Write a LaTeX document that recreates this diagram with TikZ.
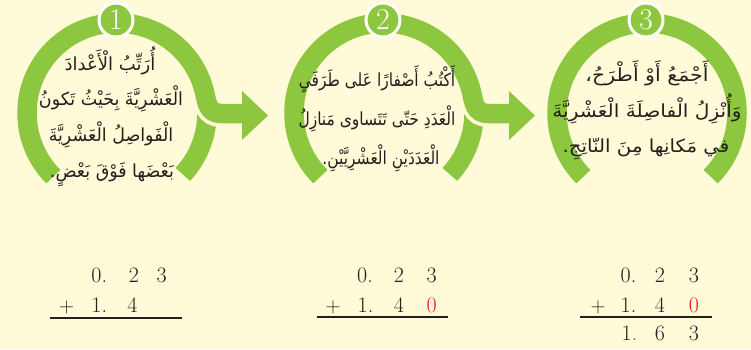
\documentclass[tikz,border=0pt]{standalone}
\usepackage{fontspec}
\usepackage{graphicx}
\TeXXeTstate=1
\newfontfamily\arabicfont[Script=Arabic]{DejaVu Sans}
\definecolor{bg}{HTML}{FFFAD7}
\definecolor{grn}{HTML}{8DC63F}
\definecolor{numred}{HTML}{ED1C24}
\definecolor{ink}{HTML}{231F20}
\tikzset{
  ring/.style={draw=grn, line width=19.5},
  gapring/.style={ring, preaction={draw=bg, line width=27}},
  head/.style={fill=grn},
  badge/.style={circle, fill=grn, draw=white, line width=3, minimum size=34, inner sep=0, text=white, font=\fontsize{30}{30}\selectfont},
  artxt/.style={anchor=base, inner sep=0, text=ink, font=\arabicfont\fontsize{18}{18}\selectfont},
  num/.style={anchor=base, inner sep=0, text=ink, font=\fontsize{22}{22}\selectfont},
  numw/.style={num, anchor=base west},
  rule/.style={draw=ink, line width=1.4},
}
\begin{document}
\begin{tikzpicture}[x=1pt,y=1pt]
\fill[bg] (0,0) rectangle (751,-349);
\useasboundingbox (0,0) rectangle (751,-349);

% ---------- step 1 ----------
\coordinate (c1) at (117,-113);
\draw[ring] ([shift={(-43:90)}]c1) arc[start angle=-43, end angle=3, radius=90];
\draw[gapring] ([shift={(225:90)}]c1) arc[start angle=225, end angle=12, radius=90]
  .. controls (206.7,-102.1) and (208,-113.5) .. (221,-113.5) -- (243,-113.5);
\fill[head] (242,-91) -- (268,-115.5) -- (242,-140) -- cycle;
\node[badge] (b1) at (116,-20) {1};
\node[artxt] (t1a) at (110,-70) {\beginR أُرَتِّبُ الْأَعْدادَ\endR};
\node[artxt] (t1b) at (111,-105) {\scalebox{0.97}[1]{\beginR الْعَشْرِيَّةَ بِحَيْثُ تَكونُ\endR}};
\node[artxt] (t1c) at (111,-141) {\scalebox{0.97}[1]{\beginR الْفَواصِلُ الْعَشْرِيَّةَ\endR}};
\node[artxt] (t1d) at (112,-177) {\scalebox{0.97}[1]{\beginR بَعْضَها فَوْقَ بَعْضٍ.\endR}};

% ---------- step 2 ----------
\coordinate (c2) at (384,-113);
\draw[ring] ([shift={(-43:90)}]c2) arc[start angle=-43, end angle=3, radius=90];
\draw[gapring] ([shift={(225:90)}]c2) arc[start angle=225, end angle=12, radius=90]
  .. controls (473.7,-102.1) and (475,-113.5) .. (488,-113.5) -- (510,-113.5);
\fill[head] (509,-91) -- (535,-115.5) -- (509,-140) -- cycle;
\node[badge] (b2) at (383,-20) {2};
\node[artxt] (t2a) at (377,-86) {\scalebox{0.86}[1]{\beginR أَكْتُبُ أَصْفارًا عَلى طَرَفَيِ\endR}};
\node[artxt] (t2b) at (377,-125) {\scalebox{0.86}[1]{\beginR الْعَدَدِ حَتّى تَتَساوى مَنازِلُ\endR}};
\node[artxt] (t2c) at (381,-164) {\scalebox{0.86}[1]{\beginR الْعَدَدَيْنِ الْعَشْرِيَّيْنِ.\endR}};

% ---------- step 3 ----------
\coordinate (c3) at (647,-113);
\draw[ring] ([shift={(-45:90)}]c3) arc[start angle=-45, end angle=225, radius=90];
\node[badge] (b3) at (646,-20) {3};
\node[artxt] (t3a) at (647,-81) {\scalebox{1.14}[1]{\beginR أَجْمَعُ أَوْ أَطْرَحُ،\endR}};
\node[artxt] (t3b) at (647,-117) {\scalebox{1.12}[1]{\beginR وَأُنْزِلُ الْفاصِلَةَ الْعَشْرِيَّةَ\endR}};
\node[artxt] (t3c) at (646,-152) {\scalebox{1.1}[1]{\beginR في مَكانِها مِنَ النّاتِجِ.\endR}};

% ---------- sums ----------
% set 1
\node[numw] (s1a) at (91.2,-282) {0.};
\node[num] (s1b) at (134,-282) {2};
\node[num] (s1c) at (161.7,-282) {3};
\node[num] (s1p) at (66.7,-312) {$+$};
\node[numw] (s1d) at (91.2,-312) {1.};
\node[num] (s1e) at (132.5,-312) {4};
\coordinate (l1a) at (50,-318);
\coordinate (l1b) at (182,-318);
\draw[rule] (l1a) -- (l1b);

% set 2
\node[numw] (s2a) at (357,-282) {0.};
\node[num] (s2b) at (399,-282) {2};
\node[num] (s2c) at (431.7,-282) {3};
\node[num] (s2p) at (333,-312) {$+$};
\node[numw] (s2d) at (357.5,-312) {1.};
\node[num] (s2e) at (399,-312) {4};
\node[num, text=numred] (s2f) at (431.7,-312) {0};
\coordinate (l2a) at (316.7,-317);
\coordinate (l2b) at (448.3,-317);
\draw[rule] (l2a) -- (l2b);

% set 3
\node[numw] (s3a) at (620.5,-282) {0.};
\node[num] (s3b) at (660,-282) {2};
\node[num] (s3c) at (694,-282) {3};
\node[num] (s3p) at (598,-312) {$+$};
\node[numw] (s3d) at (620.5,-312) {1.};
\node[num] (s3e) at (660,-312) {4};
\node[num, text=numred] (s3f) at (694,-312) {0};
\coordinate (l3a) at (580,-317);
\coordinate (l3b) at (711.7,-317);
\draw[rule] (l3a) -- (l3b);
\node[numw] (s3g) at (621.5,-340) {1\textcolor{numred}{.}};
\node[num] (s3h) at (660,-340) {6};
\node[num] (s3i) at (694,-340) {3};
\end{tikzpicture}
\end{document}
